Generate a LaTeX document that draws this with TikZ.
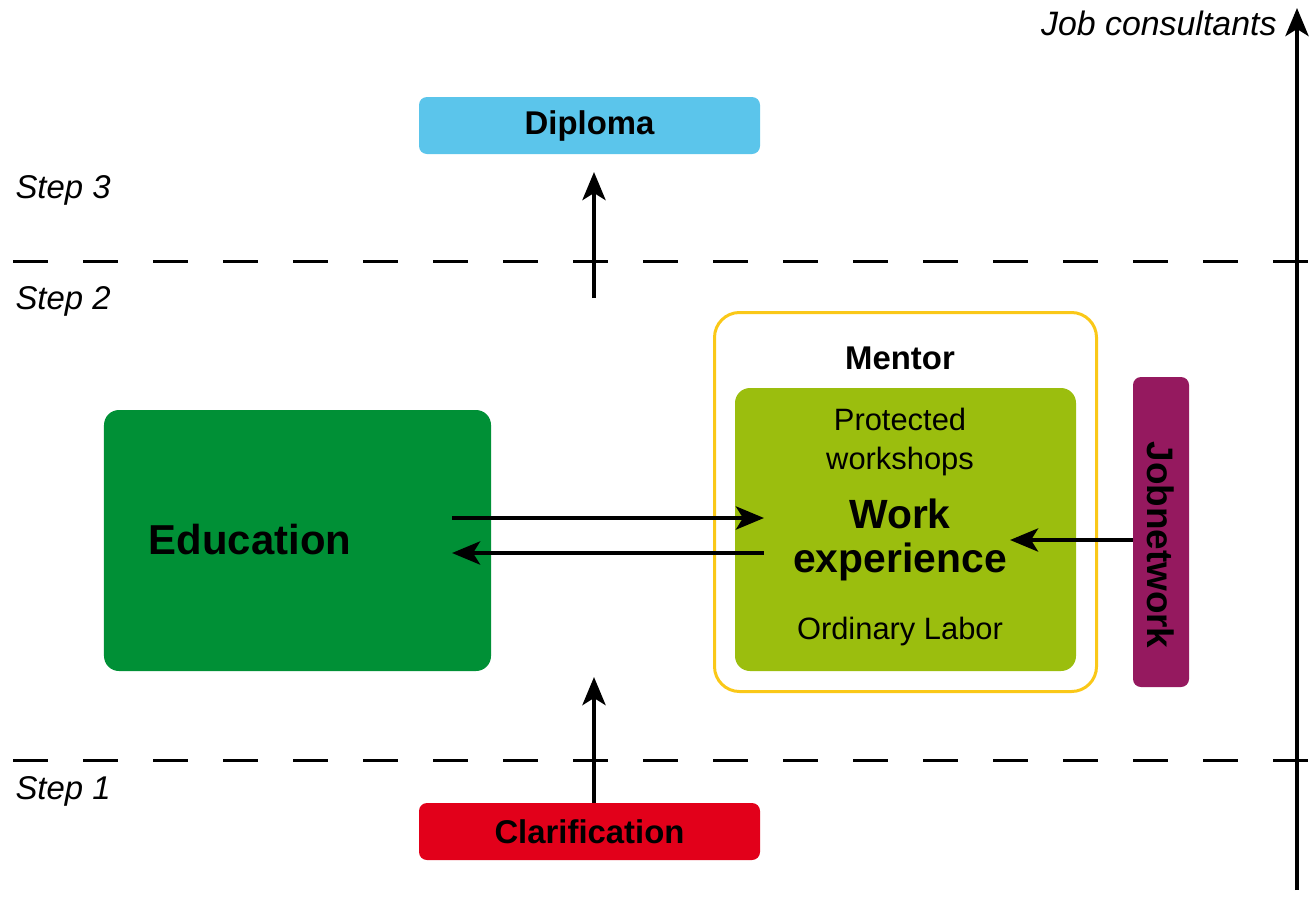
\documentclass[tikz,border=0pt]{standalone}
\usepackage{fontspec}
\setmainfont{Liberation Sans}
\usetikzlibrary{arrows.meta}
\definecolor{diplomablue}{HTML}{5BC5EB}
\definecolor{clarred}{HTML}{E2001A}
\definecolor{edugreen}{HTML}{009036}
\definecolor{worklime}{HTML}{9BBE0E}
\definecolor{mentoryellow}{HTML}{FAC818}
\definecolor{jobpurple}{HTML}{95195F}
\tikzset{
  box/.style={rectangle, inner sep=0pt, draw=none},
  steplabel/.style={anchor=base west, font=\fontsize{33}{38}\selectfont\itshape},
  boldlabel/.style={font=\fontsize{33}{38}\selectfont\bfseries},
  biglabel/.style={font=\fontsize{42}{45}\selectfont\bfseries, align=center},
  plainlabel/.style={font=\fontsize{31}{39}\selectfont, align=center},
  dashline/.style={line width=3bp, dash pattern=on 35bp off 35bp},
  flow/.style={line width=4.5bp, -{Stealth[length=28bp, width=23bp, inset=7bp]}}
}
\begin{document}
\begin{tikzpicture}[x=1bp, y=-1bp]
\useasboundingbox (0,0) rectangle (1311,912);
% dashed step separators
\coordinate (d1s) at (13,261);
\coordinate (d1e) at (1311,261);
\coordinate (d2s) at (13,760);
\coordinate (d2e) at (1311,760);
\draw[dashline] (d1s) -- (d1e);
\draw[dashline] (d2s) -- (d2e);
% step labels
\node[steplabel] (s3) at (12,198) {Step 3};
\node[steplabel] (s2) at (12,309) {Step 2};
\node[steplabel] (s1) at (12,799) {Step 1};
% boxes
\node[box, fill=diplomablue, rounded corners=8bp, minimum width=341bp, minimum height=57bp, boldlabel] (diploma) at (589.5,125.5) {Diploma};
\node[box, fill=clarred, rounded corners=8bp, minimum width=341bp, minimum height=57bp, boldlabel] (clar) at (589.5,831.5) {Clarification};
\node[box, fill=edugreen, rounded corners=15bp, minimum width=387bp, minimum height=261bp] (edu) at (297.5,540.5) {};
\node[biglabel] (edutext) at (250,540) {Education};
\node[rectangle, draw=mentoryellow, line width=3bp, rounded corners=25bp, minimum width=382bp, minimum height=379bp, inner sep=0pt] (mentor) at (905.5,502) {};
\node[boldlabel] (mentortext) at (900,358) {Mentor};
\node[box, fill=worklime, rounded corners=15bp, minimum width=341bp, minimum height=283bp] (work) at (905.5,529.5) {};
\node[plainlabel] (prot) at (900,442) {Protected\\workshops};
\node[biglabel, font=\fontsize{41}{45}\selectfont\bfseries] (worktext) at (900,540) {Work\\experience};
\node[plainlabel] (ord) at (900,632) {Ordinary Labor};
\node[box, fill=jobpurple, rounded corners=8bp, minimum width=56bp, minimum height=310bp] (jobnet) at (1161,532) {};
\node[boldlabel, rotate=-90, font=\fontsize{37}{40}\selectfont\bfseries] (jobtext) at (1161,545) {Jobnetwork};
% arrow end points
\coordinate (edu-out) at (452,518);
\coordinate (work-in) at (764,518);
\coordinate (work-out) at (764,553);
\coordinate (edu-in) at (452,553);
\coordinate (work-right) at (1010,540);
\coordinate (clar-tip) at (594,677);
\coordinate (dip-start) at (594,298);
\coordinate (dip-tip) at (594,172);
\coordinate (jc-start) at (1297,890);
\coordinate (jc-tip) at (1297,8);
% connectors
\draw[flow] (edu-out) -- (work-in);
\draw[flow] (work-out) -- (edu-in);
\draw[flow] (jobnet.west |- work-right) -- (work-right);
\draw[flow] (clar.north -| clar-tip) -- (clar-tip);
\draw[flow] (dip-start) -- (dip-tip);
\draw[flow] (jc-start) -- (jc-tip);
\node[anchor=base east, font=\fontsize{34}{38}\selectfont\itshape] (jc) at (1280,35) {Job consultants};
\end{tikzpicture}
\end{document}
